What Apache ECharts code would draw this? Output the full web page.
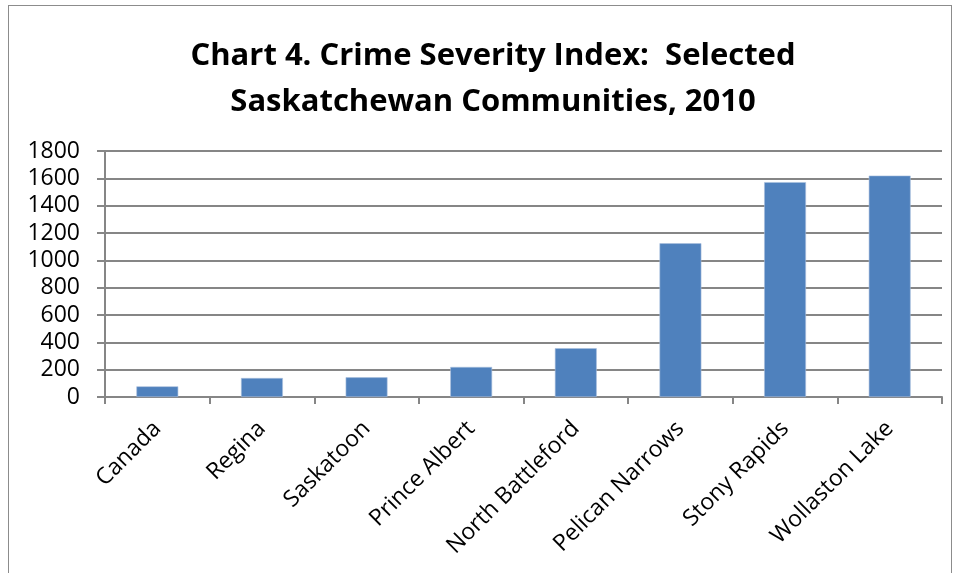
<!DOCTYPE html>
<html>
<head>
<meta charset="utf-8">
<script src="https://cdn.jsdelivr.net/npm/echarts@6/dist/echarts.min.js"></script>
<style>
  html, body { margin: 0; padding: 0; background: #fff; }
  #frame { position: absolute; left: 8px; top: 5px; width: 944px; height: 580px; border: 1px solid #8c8c8c; box-sizing: border-box; }
  #chart { width: 956px; height: 573px; position: absolute; left: 0; top: 0; }
</style>
</head>
<body>
<div id="frame"></div>
<div id="chart"></div>
<script>
// Crime Severity Index, 2010
const communities = ['Canada', 'Regina', 'Saskatoon', 'Prince Albert', 'North Battleford', 'Pelican Narrows', 'Stony Rapids', 'Wollaston Lake'];
const severityIndex = [78, 139, 144, 220, 357, 1125, 1572, 1620];
const yTicks = [0, 200, 400, 600, 800, 1000, 1200, 1400, 1600, 1800];

const axisGray = '#868686';
const chart = echarts.init(document.getElementById('chart'), null, { renderer: 'canvas' });
chart.setOption({
  animation: false,
  title: {
    text: 'Chart 4. Crime Severity Index:  Selected\nSaskatchewan Communities, 2010',
    left: 488,
    textAlign: 'center',
    top: 28,
    textStyle: { fontFamily: 'Open Sans', fontWeight: 'bold', fontSize: 31, lineHeight: 46, color: '#000' }
  },
  grid: { left: 105, right: 14, top: 151, bottom: 176, containLabel: false },
  xAxis: {
    type: 'category',
    data: communities,
    axisLine: { lineStyle: { color: axisGray, width: 2 } },
    axisTick: { show: true, alignWithLabel: false, length: 7, lineStyle: { color: axisGray, width: 2 } },
    axisLabel: { rotate: 45, fontFamily: 'Open Sans', fontSize: 23, color: '#000', margin: 28 }
  },
  yAxis: {
    type: 'value',
    min: yTicks[0],
    max: yTicks[yTicks.length - 1],
    interval: 200,
    axisLine: { show: true, lineStyle: { color: axisGray, width: 2 } },
    axisTick: { show: true, length: 8, lineStyle: { color: axisGray, width: 2 } },
    splitLine: { lineStyle: { color: axisGray, width: 2 } },
    axisLabel: {
      fontFamily: 'Open Sans', fontSize: 23, color: '#000', margin: 25,
      formatter: function (v) { return String(v); }
    }
  },
  series: [{
    type: 'bar',
    data: severityIndex,
    barWidth: '40%',
    itemStyle: { color: '#4f81bd', borderColor: '#a9c0de', borderWidth: 0.6 }
  }]
});
</script>
</body>
</html>
